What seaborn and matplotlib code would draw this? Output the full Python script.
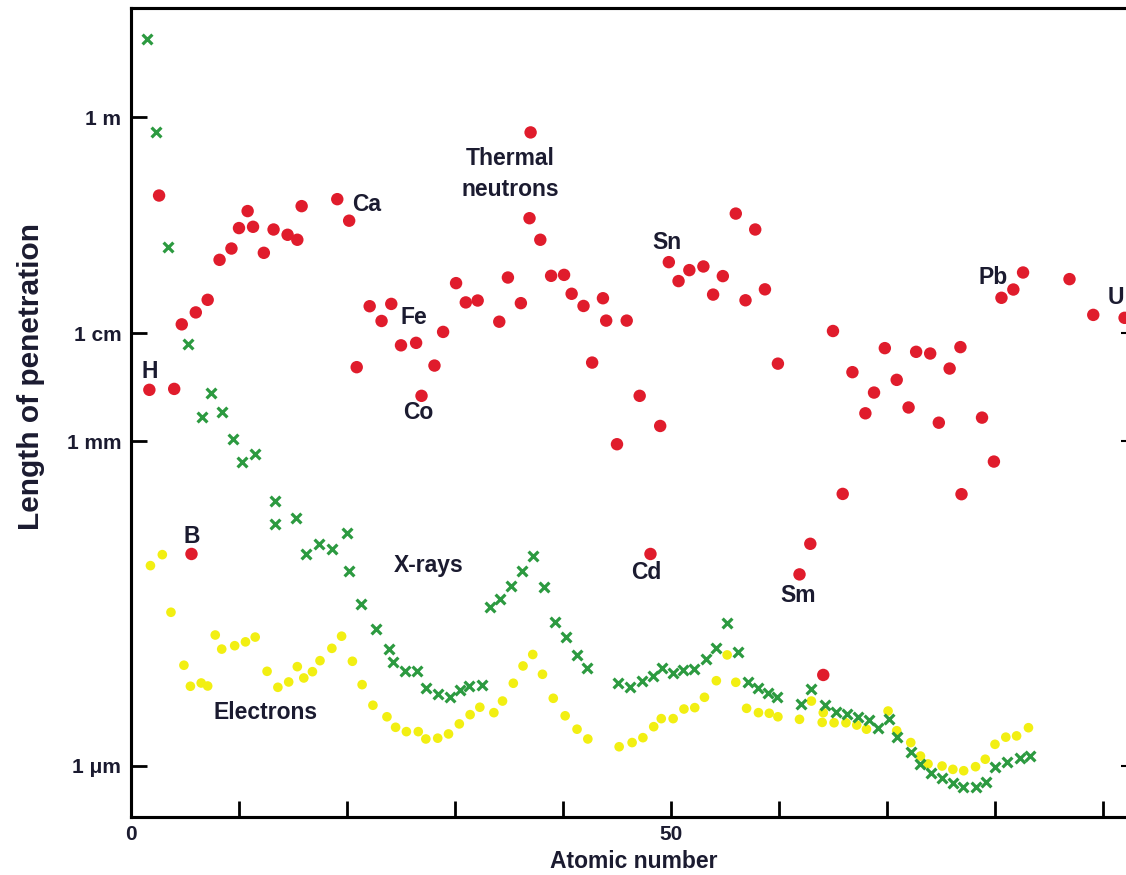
import numpy as np
import pandas as pd
import matplotlib
matplotlib.use("Agg")
import matplotlib.pyplot as plt
import matplotlib.ticker as mticker
import seaborn as sns

# ---------------- data (atomic number, penetration length in metres) ----------------
neutron_z = [1.7, 2.6, 4.0, 4.7, 5.6, 6.0, 7.1, 8.2, 9.3, 10.0, 10.8, 11.3, 12.3, 13.2,
             14.5, 15.4, 15.8, 19.1, 20.2, 20.9, 22.1, 23.2, 24.1, 25.0, 26.4, 26.9,
             28.1, 28.9, 30.1, 31.0, 32.1, 34.1, 34.9, 36.1, 37.0, 36.9, 37.9, 38.9,
             40.1, 40.8, 41.9, 42.7, 43.7, 44.0, 45.0, 45.9, 47.1, 48.1, 49.0, 49.8,
             50.7, 51.7, 53.0, 53.9, 54.8, 56.0, 56.9, 57.8, 58.7, 59.9, 61.9, 62.9,
             64.1, 65.0, 65.9, 66.8, 68.0, 68.8, 69.8, 70.9, 72.0, 72.7, 74.0, 74.8,
             75.8, 76.8, 76.9, 78.8, 79.9, 80.6, 81.7, 82.6, 86.9, 89.1, 92.0]
neutron_len = [3.0e-3, 0.188, 3.06e-3, 0.0121, 9.1e-5, 0.0156, 0.0204, 0.0478, 0.0608,
               0.094, 0.135, 0.0966, 0.0555, 0.0912, 0.0815, 0.0733, 0.150, 0.174, 0.110,
               4.86e-3, 0.0178, 0.0130, 0.0187, 7.74e-3, 8.16e-3, 2.64e-3, 5.03e-3,
               0.0103, 0.0291, 0.0193, 0.0201, 0.0128, 0.0328, 0.0190, 0.721, 0.116,
               0.0733, 0.034, 0.0347, 0.0232, 0.0179, 5.36e-3, 0.0211, 0.0131, 9.42e-4,
               0.0131, 2.64e-3, 9.1e-5, 1.39e-3, 0.0455, 0.0304, 0.0384, 0.0415, 0.0228,
               0.0338, 0.128, 0.0202, 0.0912, 0.0255, 5.24e-3, 5.89e-5, 1.13e-4, 6.92e-6,
               0.0105, 3.27e-4, 4.37e-3, 1.82e-3, 2.83e-3, 7.29e-3, 3.71e-3, 2.06e-3,
               6.74e-3, 6.50e-3, 1.49e-3, 4.72e-3, 7.45e-3, 3.25e-4, 1.66e-3, 6.51e-4,
               0.0213, 0.0254, 0.0365, 0.0317, 0.0148, 0.0139]

xray_z = [1.5, 2.3, 3.4, 5.3, 6.6, 7.4, 8.4, 9.4, 10.3, 11.5, 13.3, 13.3, 15.3, 16.2,
          17.4, 18.6, 20.0, 20.2, 21.3, 22.7, 23.9, 24.3, 25.4, 26.5, 27.3, 28.4, 29.5,
          30.5, 31.3, 32.5, 33.2, 34.2, 35.2, 36.2, 37.2, 38.2, 39.3, 40.3, 41.3, 42.2,
          45.1, 46.2, 47.3, 48.3, 49.2, 50.2, 51.1, 52.1, 53.2, 54.2, 55.2, 56.2, 57.1,
          58.1, 59.0, 59.8, 62.0, 63.0, 64.3, 65.3, 66.3, 67.3, 68.3, 69.2, 70.2, 70.9,
          72.2, 73.1, 74.1, 75.1, 76.1, 77.0, 78.2, 79.2, 80.0, 81.1, 82.3, 83.2]
xray_len = [5.27, 0.731, 0.0627, 8.04e-3, 1.70e-3, 2.79e-3, 1.88e-3, 1.06e-3, 6.47e-4,
            7.62e-4, 2.82e-4, 1.71e-4, 1.95e-4, 9.10e-5, 1.13e-4, 1.01e-4, 1.43e-4,
            6.34e-5, 3.16e-5, 1.83e-5, 1.20e-5, 9.18e-6, 7.53e-6, 7.53e-6, 5.28e-6,
            4.62e-6, 4.30e-6, 5.02e-6, 5.47e-6, 5.55e-6, 2.93e-5, 3.49e-5, 4.61e-5,
            6.34e-5, 8.73e-5, 4.48e-5, 2.15e-5, 1.55e-5, 1.06e-5, 8.08e-6, 5.87e-6,
            5.39e-6, 6.12e-6, 6.77e-6, 7.98e-6, 7.18e-6, 7.69e-6, 7.81e-6, 9.66e-6,
            1.22e-5, 2.11e-5, 1.13e-5, 6.00e-6, 5.21e-6, 4.74e-6, 4.36e-6, 3.73e-6,
            5.10e-6, 3.65e-6, 3.13e-6, 3.01e-6, 2.84e-6, 2.65e-6, 2.22e-6, 2.69e-6,
            1.86e-6, 1.35e-6, 1.04e-6, 8.51e-7, 7.66e-7, 6.97e-7, 6.40e-7, 6.40e-7,
            7.13e-7, 9.81e-7, 1.09e-6, 1.17e-6, 1.23e-6]

electron_z = [1.8, 2.9, 3.7, 4.9, 5.5, 6.5, 7.1, 7.8, 8.4, 9.6, 10.6, 11.5, 12.6, 13.6,
              14.6, 15.4, 16.0, 16.8, 17.5, 18.6, 19.5, 20.5, 21.4, 22.4, 23.7, 24.5,
              25.5, 26.6, 27.3, 28.4, 29.4, 30.4, 31.4, 32.3, 33.6, 34.4, 35.4, 36.3,
              37.2, 38.1, 39.1, 40.2, 41.3, 42.3, 45.2, 46.4, 47.4, 48.4, 49.1, 50.2,
              51.2, 52.2, 53.1, 54.2, 55.2, 56.0, 57.0, 58.1, 59.1, 59.9, 61.9, 63.0,
              64.1, 64.0, 65.1, 66.2, 67.2, 68.1, 70.1, 70.9, 72.2, 73.1, 73.8, 75.1,
              76.1, 77.1, 78.2, 79.1, 80.0, 81.0, 82.0, 83.1]
electron_len = [7.10e-5, 8.97e-5, 2.63e-5, 8.51e-6, 5.44e-6, 5.83e-6, 5.47e-6, 1.62e-5,
                1.20e-5, 1.29e-5, 1.40e-5, 1.55e-5, 7.48e-6, 5.32e-6, 5.96e-6, 8.26e-6,
                6.49e-6, 7.42e-6, 9.38e-6, 1.22e-5, 1.58e-5, 9.26e-6, 5.63e-6, 3.63e-6,
                2.84e-6, 2.27e-6, 2.07e-6, 2.07e-6, 1.77e-6, 1.80e-6, 1.97e-6, 2.44e-6,
                2.97e-6, 3.48e-6, 3.10e-6, 3.97e-6, 5.80e-6, 8.38e-6, 1.07e-5, 7.02e-6,
                4.21e-6, 2.90e-6, 2.18e-6, 1.77e-6, 1.50e-6, 1.64e-6, 1.82e-6, 2.30e-6,
                2.73e-6, 2.73e-6, 3.35e-6, 3.45e-6, 4.30e-6, 6.12e-6, 1.06e-5, 5.92e-6,
                3.40e-6, 3.10e-6, 3.06e-6, 2.84e-6, 2.69e-6, 3.97e-6, 3.10e-6, 2.52e-6,
                2.50e-6, 2.50e-6, 2.38e-6, 2.18e-6, 3.21e-6, 2.11e-6, 1.64e-6, 1.23e-6,
                1.04e-6, 9.95e-7, 9.27e-7, 9.00e-7, 9.81e-7, 1.15e-6, 1.58e-6, 1.84e-6,
                1.89e-6, 2.25e-6]

# annotation labels: text, atomic number, length
label_text = ["H", "B", "Ca", "Fe", "Co", "Thermal\nneutrons", "Sn", "Pb", "U",
              "Cd", "Sm", "X-rays", "Electrons"]
label_z = [1.7, 5.6, 21.8, 26.2, 26.6, 35.1, 49.6, 79.8, 91.2, 47.7, 61.8, 27.6, 12.5]
label_len = [4.4e-3, 1.31e-4, 0.154, 0.0139, 1.84e-3, 0.30, 0.0687, 0.0326, 0.0214,
             6.07e-5, 3.72e-5, 7.05e-5, 3.08e-6]

ytick_vals = [1.0, 1e-2, 1e-3, 1e-6]
ytick_labels = ["1 m", "1 cm", "1 mm", "1 \u03bcm"]
right_tick_vals = [1e-2, 1e-3, 1e-6]
xtick_vals = [0, 10, 20, 30, 40, 50, 60, 70, 80, 90]
xtick_labels = ["0", "", "", "", "", "50", "", "", "", ""]

# ---------------- styling ----------------
sns.set_style("white")
plt.rcParams["font.family"] = ["Liberation Sans", "DejaVu Sans"]
plt.rcParams["font.weight"] = "bold"

RED = "#e01c2c"
GREEN = "#2c9a40"
YELLOW = "#f2ef12"
TEXT = "#1b1b30"

W, H = 1126, 875
fig = plt.figure(figsize=(W / 100, H / 100), dpi=100)
ax = fig.add_axes([131 / W, 1 - 817 / H, (1137 - 131) / W, (817 - 8) / H])

neutrons = pd.DataFrame({"z": neutron_z, "len": neutron_len})
xrays = pd.DataFrame({"z": xray_z, "len": xray_len})
electrons = pd.DataFrame({"z": electron_z, "len": electron_len})

sns.scatterplot(data=electrons, x="z", y="len", ax=ax, color=YELLOW, s=48,
                edgecolor="none", marker="o", zorder=3)
sns.scatterplot(data=xrays, x="z", y="len", ax=ax, color=GREEN, s=50,
                marker="x", linewidth=2.3, zorder=4)
sns.scatterplot(data=neutrons, x="z", y="len", ax=ax, color=RED, s=80,
                edgecolor="none", marker="o", zorder=5)

ax.set_yscale("log")
ax.set_xlim(0, 93.15)
ax.set_ylim(3.36e-7, 10.2)

for t, zx, ly in zip(label_text, label_z, label_len):
    ax.text(zx, ly, t, ha="center", va="center", fontsize=16.5, fontweight="bold",
            color=TEXT, linespacing=1.45, zorder=6, clip_on=False)

ax.set_yticks(ytick_vals)
ax.set_yticklabels(ytick_labels)
ax.yaxis.set_minor_locator(mticker.NullLocator())
ax.set_xticks(xtick_vals)
ax.set_xticklabels(xtick_labels)
ax.tick_params(axis="both", which="major", bottom=True, left=True, top=False,
               right=False, direction="in", length=11.5, width=2.0, color="black",
               labelsize=15, labelcolor=TEXT, pad=6)
ax.tick_params(axis="y", pad=7)
for lab in ax.get_xticklabels() + ax.get_yticklabels():
    lab.set_fontweight("bold")

ax2 = ax.twinx()
ax2.set_yscale("log")
ax2.set_ylim(ax.get_ylim())
ax2.set_yticks(right_tick_vals)
ax2.set_yticklabels([])
ax2.yaxis.set_minor_locator(mticker.NullLocator())
ax2.tick_params(axis="y", right=True, direction="in", length=11.5, width=1.5,
                color="black")

for a in (ax, ax2):
    for sp in a.spines.values():
        sp.set_linewidth(2.2)
        sp.set_color("black")

ax.set_xlabel("Atomic number", fontsize=16.5, fontweight="bold", color=TEXT, labelpad=4)
ax.set_ylabel("Length of penetration", fontsize=21.5, fontweight="bold", color=TEXT)
ax.yaxis.set_label_coords(-0.085, 0.545)

fig.savefig("out.png", dpi=100)
